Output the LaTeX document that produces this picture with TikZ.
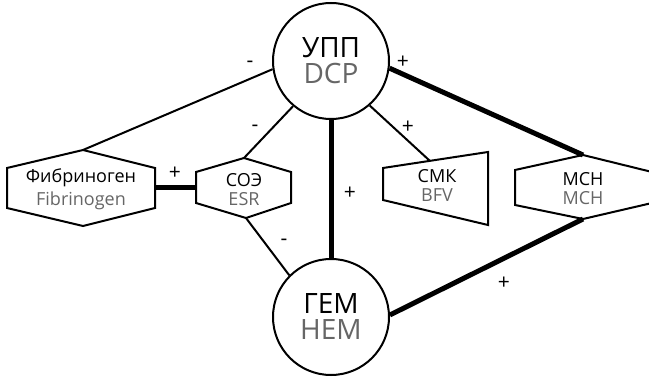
\documentclass[tikz,border=0pt]{standalone}
\usepackage{fontspec}
\setmainfont{Open Sans}
\definecolor{latgray}{HTML}{666666}
\begin{document}
\begin{tikzpicture}[x=1pt,y=-1pt,
  thinline/.style={line width=2pt},
  thickline/.style={line width=5pt},
  outline/.style={line width=2pt, line join=miter},
  circ/.style={circle, draw, line width=2pt, minimum size=116pt, inner sep=0pt, align=center, font=\fontsize{28}{26}\selectfont},
  lab/.style={align=center, font=\fontsize{18}{19}\selectfont, inner sep=0pt},
  sign/.style={font=\fontsize{21}{21}\selectfont, inner sep=0pt}]
\clip (0,0) rectangle (649,377);
% circles
\node[circ] (dcp) at (331,61) {УПП\\\textcolor{latgray}{DCP}};
\node[circ] (hem) at (331,317) {ГЕМ\\\textcolor{latgray}{HEM}};
% Fibrinogen hexagon
\coordinate (fibT) at (83,150);
\coordinate (fibR) at (155,188);
\draw[outline] (7,168) -- (fibT) -- (155,168) -- (155,208) -- (83,226) -- (7,208) -- cycle;
\node[lab] (fib) at (81,189) {Фибриноген\\[4pt]\textcolor{latgray}{Fibrinogen}};
% ESR hexagon
\coordinate (esrT) at (244,158);
\coordinate (esrB) at (246,218);
\coordinate (esrL) at (196,188);
\draw[outline] (196,172) -- (esrT) -- (291,172) -- (291,203) -- (esrB) -- (196,203) -- cycle;
\node[lab] (esr) at (244,190) {СОЭ\\\textcolor{latgray}{ESR}};
% BFV trapezoid
\coordinate (bfvT) at (430,161);
\draw[outline] (383,168) -- (488,152) -- (488,225) -- (383,200) -- cycle;
\node[lab] (bfv) at (437,185) {СМК\\\textcolor{latgray}{BFV}};
% MCH hexagon
\coordinate (mchT) at (583,155);
\coordinate (mchB) at (583,219);
\draw[outline] (515,170) -- (mchT) -- (652,172) -- (652,203) -- (mchB) -- (515,205) -- cycle;
\node[lab] (mch) at (583,189) {МСН\\\textcolor{latgray}{MCH}};
% connectors
\draw[thinline] (dcp.188) -- (fibT);
\draw[thinline] (dcp.230) -- (esrT);
\draw[thinline] (hem.135) -- (esrB);
\draw[thinline] (dcp.311) -- (bfvT);
\draw[thickline] (fibR) -- (esrL);
\draw[thickline] (dcp.south) -- (hem.north);
\draw[thickline] (dcp.353) -- (mchT);
\draw[thickline] (hem.2) -- (mchB);
% signs
\node[sign] (s1) at (250,64) {-};
\node[sign] (s2) at (255,128) {-};
\node[sign] (s3) at (175,173) {+};
\node[sign] (s4) at (284,242) {-};
\node[sign] (s5) at (350,193) {+};
\node[sign] (s6) at (408,127) {+};
\node[sign] (s7) at (403,62) {+};
\node[sign] (s8) at (504,283) {+};
\end{tikzpicture}
\end{document}
